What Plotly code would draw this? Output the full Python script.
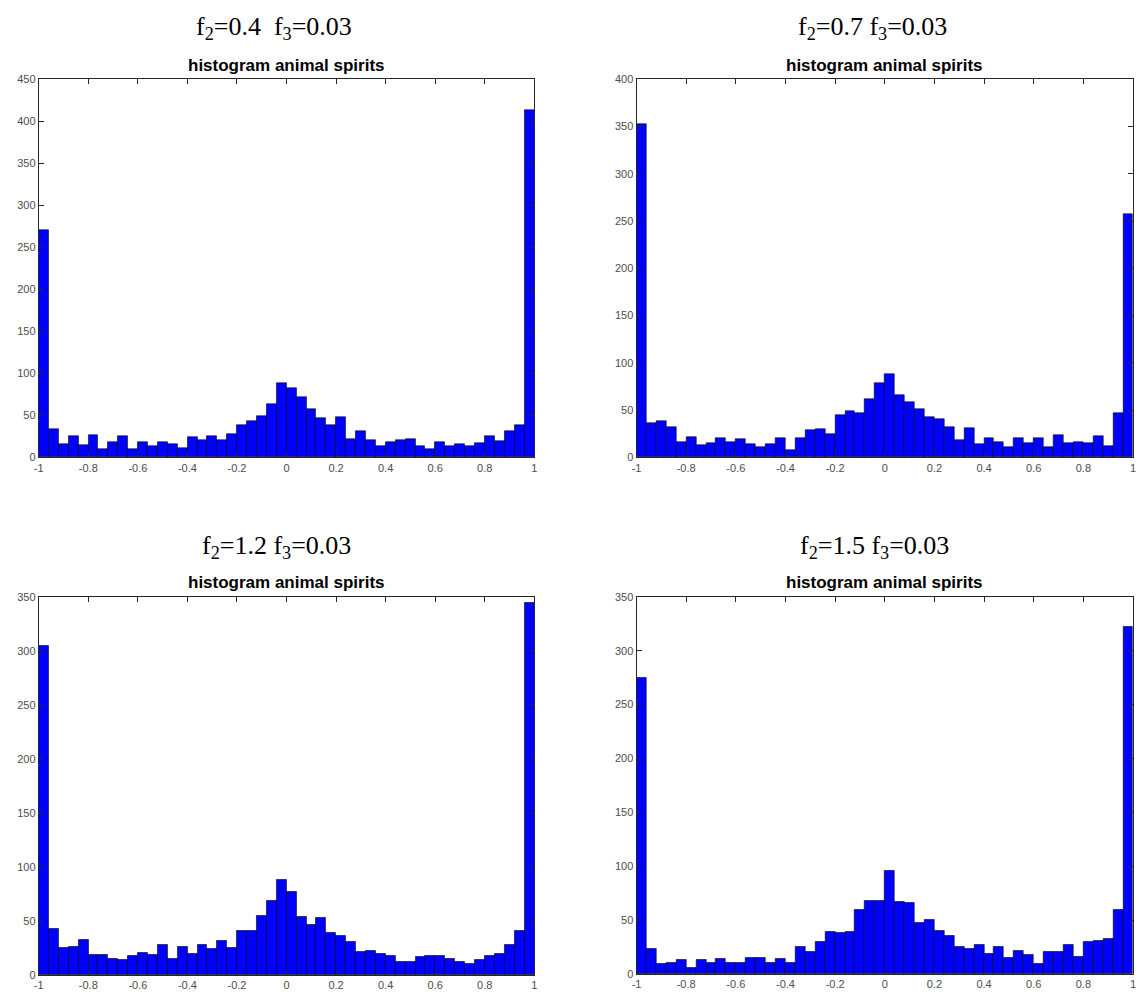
import numpy as np
import plotly.graph_objects as go

# ---------------- data ----------------
bin_edges = np.linspace(-1.0, 1.0, 51)          # 50 bins of width 0.04
bin_centers = (bin_edges[:-1] + bin_edges[1:]) / 2

counts_f2_04 = [271, 34, 16, 25, 15, 27, 10, 18, 25, 10,
                18, 13, 18, 16, 11, 24, 21, 25, 21, 28,
                38, 43, 49, 63, 88, 83, 72, 57, 47, 38,
                48, 22, 31, 21, 14, 18, 21, 22, 14, 10,
                18, 13, 16, 14, 17, 25, 20, 31, 38, 413]

counts_f2_07 = [352, 36, 38, 32, 16, 22, 13, 15, 20, 16,
                19, 14, 11, 14, 21, 8, 21, 29, 30, 25,
                45, 49, 47, 62, 79, 88, 66, 59, 51, 43,
                41, 32, 18, 31, 14, 20, 16, 11, 21, 15,
                20, 11, 24, 15, 16, 15, 23, 12, 47, 257]

counts_f2_12 = [305, 43, 25, 26, 33, 19, 19, 15, 14, 18,
                21, 19, 28, 15, 26, 20, 28, 24, 32, 25,
                41, 41, 55, 69, 88, 77, 54, 47, 53, 39,
                36, 31, 22, 23, 20, 18, 12, 12, 17, 18,
                18, 15, 12, 11, 14, 18, 20, 28, 41, 344]

counts_f2_15 = [275, 24, 10, 11, 13, 6, 13, 11, 14, 11,
                11, 15, 15, 11, 14, 11, 25, 21, 30, 39,
                38, 39, 60, 68, 68, 96, 67, 66, 48, 50,
                40, 36, 25, 24, 27, 19, 25, 15, 22, 18,
                10, 21, 21, 27, 16, 30, 31, 33, 60, 322]

panel_titles = ["f<sub>2</sub>=0.4  f<sub>3</sub>=0.03",
                "f<sub>2</sub>=0.7 f<sub>3</sub>=0.03",
                "f<sub>2</sub>=1.2 f<sub>3</sub>=0.03",
                "f<sub>2</sub>=1.5 f<sub>3</sub>=0.03"]
axes_title = "histogram animal spirits"
y_max = [450, 400, 350, 350]
x_tick_vals = [-1, -0.8, -0.6, -0.4, -0.2, 0, 0.2, 0.4, 0.6, 0.8, 1]
x_tick_text = ["-1", "-0.8", "-0.6", "-0.4", "-0.2", "0", "0.2", "0.4", "0.6", "0.8", "1"]

series = [counts_f2_04, counts_f2_07, counts_f2_12, counts_f2_15]

# ---------------- layout geometry (pixels) ----------------
W, H = 1139, 997
# (left, right, top, bottom) of each plot box in pixels
boxes = [(34, 533, 74, 457),
         (636, 1136, 74, 457),
         (34, 533, 598, 981),
         (636, 1136, 598, 980)]
big_title_pos = [(271, 22), (874, 22), (273, 548), (876, 548)]

fig = go.Figure()
layout = dict(width=W, height=H, margin=dict(l=0, r=0, t=0, b=0),
              paper_bgcolor="white", plot_bgcolor="white",
              showlegend=False, bargap=0, annotations=[])

tick_font = dict(family="Arial, Liberation Sans, sans-serif", size=11, color="#4d4d4d")

for i, (counts, box) in enumerate(zip(series, boxes)):
    xa = "x" if i == 0 else f"x{i+1}"
    ya = "y" if i == 0 else f"y{i+1}"
    fig.add_trace(go.Bar(x=bin_centers, y=counts, width=0.04,
                         marker=dict(color="#0000ff", line=dict(color="#000000", width=0.6)),
                         xaxis=xa, yaxis=ya, hoverinfo="x+y"))
    l, r, t, b = box
    xkey = "xaxis" if i == 0 else f"xaxis{i+1}"
    ykey = "yaxis" if i == 0 else f"yaxis{i+1}"
    layout[xkey] = dict(domain=[l / W, r / W], anchor=ya, range=[-1, 1],
                        tickmode="array", tickvals=x_tick_vals, ticktext=x_tick_text,
                        ticks="inside", ticklen=5, tickcolor="#262626", tickwidth=1,
                        showline=True, linecolor="#262626", linewidth=1, mirror="ticks",
                        showgrid=False, zeroline=False, tickfont=tick_font)
    layout[ykey] = dict(domain=[1 - b / H, 1 - t / H], anchor=xa, range=[0, y_max[i]],
                        dtick=50, tick0=0,
                        ticks="inside", ticklen=5, tickcolor="#262626", tickwidth=1,
                        showline=True, linecolor="#262626", linewidth=1, mirror="ticks",
                        showgrid=False, zeroline=False, tickfont=tick_font)
    # big serif title
    bx, by = big_title_pos[i]
    layout["annotations"].append(dict(
        text=panel_titles[i], x=bx / W, y=1 - by / H, xref="paper", yref="paper",
        xanchor="center", yanchor="middle", showarrow=False,
        font=dict(family="Liberation Serif, DejaVu Serif, serif", size=26, color="#000000")))
    # axes title
    layout["annotations"].append(dict(
        text=f"<b>{axes_title}</b>", x=(l + r) / 2 / W, y=1 - (t - 14) / H,
        xref="paper", yref="paper", xanchor="center", yanchor="middle", showarrow=False,
        font=dict(family="Arial, Liberation Sans, sans-serif", size=17, color="#000000")))

fig.update_layout(**layout)
fig.write_html("out.html", config={"displayModeBar": False},
               post_script="document.body.style.margin='0';document.body.style.overflow='hidden';")
